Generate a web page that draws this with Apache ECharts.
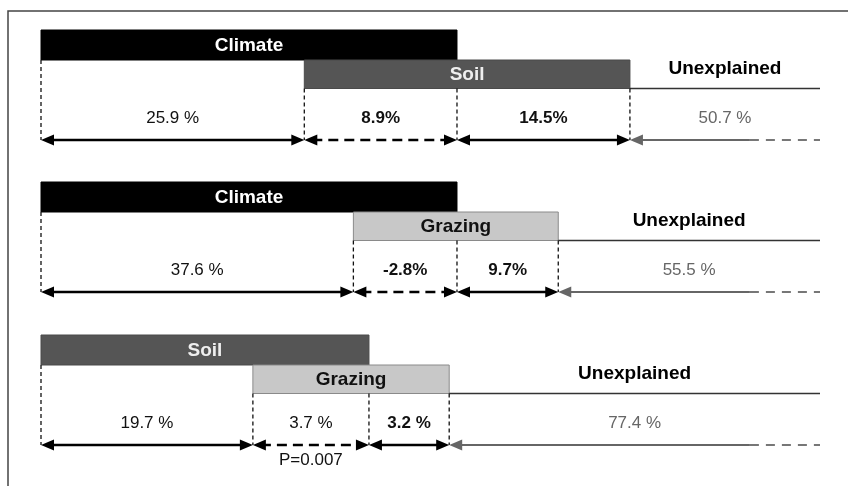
<!DOCTYPE html>
<html>
<head>
<meta charset="utf-8">
<script src="https://cdn.jsdelivr.net/npm/echarts@6/dist/echarts.min.js"></script>
<style>html,body{margin:0;padding:0;background:#fff}#c{width:848px;height:486px}</style>
</head>
<body>
<div id="c"></div>
<script>
// ---- data ----
const factorA = ['Climate', 'Climate', 'Soil'];
const factorB = ['Soil', 'Grazing', 'Grazing'];
const uniqueA = [25.9, 37.6, 19.7];
const shared = [8.9, -2.8, 3.7];
const uniqueB = [14.5, 9.7, 3.2];
const unexplained = [50.7, 55.5, 77.4];
const sharedP = [null, null, 0.007];
// schematic segment widths on the diagram axis (diagram is not drawn to scale)
const spanA = [33.8, 40.1, 27.2];
const spanShared = [19.6, 13.3, 14.9];
const spanB = [22.2, 13.0, 10.3];
// label formatting as printed
const sepShared = ['', '', ' '];
const sepB = ['', '', ' '];

// ---- styles / layout ----
const fill = { Climate: '#000000', Soil: '#555555', Grazing: '#c8c8c8' };
const stroke = { Climate: '#000000', Soil: '#4a4a4a', Grazing: '#8a8a8a' };
const txt = { Climate: '#ffffff', Soil: '#eeeeee', Grazing: '#111111' };
const panelTop = [0, 15.2, 30.5];
const L = { barA: 3.0, barB: 5.85, label: 8.85, arrow: 11.0, unexpl: 1.95, p: 12.5, solidEnd: 91 };
const FF = '"Liberation Sans", Arial, sans-serif';

function arrowHead(p, dir, color) {
  // dir: +1 points right, -1 points left; p = tip
  const len = 13, half = 5.5;
  return { type: 'polygon', shape: { points: [[p[0], p[1]], [p[0] - dir * len, p[1] - half], [p[0] - dir * len, p[1] + half]] }, style: { fill: color } };
}

function renderItem(params, api) {
  const i = params.dataIndex;
  const y0 = panelTop[i];
  const x0 = 0, x1 = spanA[i], x2 = x1 + spanShared[i], x3 = x2 + spanB[i], x4 = 100;
  const c = (x, y) => api.coord([x, y]);
  const els = [];
  const A = factorA[i], B = factorB[i];
  // bar A
  let p1 = c(x0, y0), p2 = c(x2, y0 + L.barA);
  els.push({ type: 'rect', shape: { x: p1[0], y: p1[1], width: p2[0] - p1[0], height: p2[1] - p1[1] }, style: { fill: fill[A], stroke: stroke[A], lineWidth: 1 } });
  els.push({ type: 'text', style: { text: A, x: (p1[0] + p2[0]) / 2, y: (p1[1] + p2[1]) / 2 + 1, align: 'center', verticalAlign: 'middle', fontFamily: FF, fontSize: 19, fontWeight: 'bold', fill: txt[A] } });
  // bar B
  p1 = c(x1, y0 + L.barA); p2 = c(x3, y0 + L.barB);
  els.push({ type: 'rect', shape: { x: p1[0], y: p1[1], width: p2[0] - p1[0], height: p2[1] - p1[1] }, style: { fill: fill[B], stroke: stroke[B], lineWidth: 1 } });
  els.push({ type: 'text', style: { text: B, x: (p1[0] + p2[0]) / 2, y: (p1[1] + p2[1]) / 2 + 1, align: 'center', verticalAlign: 'middle', fontFamily: FF, fontSize: 19, fontWeight: 'bold', fill: txt[B] } });
  // unexplained baseline
  p1 = c(x3, y0 + L.barB); p2 = c(x4, y0 + L.barB);
  els.push({ type: 'line', shape: { x1: p1[0], y1: p1[1], x2: p2[0], y2: p2[1] }, style: { stroke: '#333', lineWidth: 1.5 } });
  let pu = c((x3 + x4) / 2, y0 + L.barB - L.unexpl);
  els.push({ type: 'text', style: { text: 'Unexplained', x: pu[0], y: pu[1], align: 'center', verticalAlign: 'middle', fontFamily: FF, fontSize: 19, fontWeight: 'bold', fill: '#000' } });
  // dashed verticals
  const ya = y0 + L.arrow;
  [[x0, y0 + L.barA], [x1, y0 + L.barB], [x2, y0 + L.barB], [x3, y0 + L.barB]].forEach(([x, yt]) => {
    const a = c(x, yt), b = c(x, ya);
    els.push({ type: 'line', shape: { x1: a[0], y1: a[1], x2: b[0], y2: b[1] }, style: { stroke: '#111', lineWidth: 1.3, lineDash: [4, 3] } });
  });
  // arrows
  function dbl(xa, xb, dashed) {
    const a = c(xa, ya), b = c(xb, ya);
    els.push({ type: 'line', shape: { x1: a[0] + 8, y1: a[1], x2: b[0] - 8, y2: b[1] }, style: { stroke: '#000', lineWidth: 2.6, lineDash: dashed ? [10, 6] : null } });
    els.push(arrowHead(a, -1, '#000'));
    els.push(arrowHead(b, 1, '#000'));
  }
  dbl(x0, x1, false);
  dbl(x1, x2, true);
  dbl(x2, x3, false);
  // unexplained arrow (grey)
  let a = c(x3, ya), m = c(L.solidEnd, ya), e = c(x4, ya);
  els.push({ type: 'line', shape: { x1: a[0] + 8, y1: a[1], x2: m[0], y2: m[1] }, style: { stroke: '#666', lineWidth: 2.2 } });
  els.push({ type: 'line', shape: { x1: m[0], y1: m[1], x2: e[0], y2: e[1] }, style: { stroke: '#777', lineWidth: 2, lineDash: [9, 7] } });
  els.push(arrowHead(a, -1, '#666'));
  // value labels
  const yl = y0 + L.label;
  const lab = (xm, s, color, weight) => {
    const p = c(xm, yl);
    els.push({ type: 'text', style: { text: s, x: p[0], y: p[1], align: 'center', verticalAlign: 'middle', fontFamily: FF, fontSize: 17, fontWeight: weight, fill: color } });
  };
  lab((x0 + x1) / 2, uniqueA[i].toFixed(1) + ' %', '#111', 'normal');
  lab((x1 + x2) / 2, shared[i].toFixed(1) + sepShared[i] + '%', '#111', i === 2 ? 'normal' : 'bold');
  lab((x2 + x3) / 2, uniqueB[i].toFixed(1) + sepB[i] + '%', '#111', 'bold');
  lab((x3 + x4) / 2, unexplained[i].toFixed(1) + ' %', '#666', 'normal');
  if (sharedP[i] != null) {
    const p = c((x1 + x2) / 2, y0 + L.p);
    els.push({ type: 'text', style: { text: 'P=' + sharedP[i], x: p[0], y: p[1], align: 'center', verticalAlign: 'middle', fontFamily: FF, fontSize: 17, fill: '#111' } });
  }
  return { type: 'group', children: els };
}

const chart = echarts.init(document.getElementById('c'), null, { renderer: 'canvas' });
chart.setOption({
  animation: false,
  backgroundColor: '#fff',
  grid: { left: 41, right: 28, top: 30, bottom: 26 },
  xAxis: { type: 'value', min: 0, max: 100, show: false },
  yAxis: { type: 'value', min: 0, max: 43, inverse: true, show: false },
  graphic: [{ type: 'polyline', shape: { points: [[8, 486], [8, 11], [848, 11]] }, style: { stroke: '#444', lineWidth: 1.5, fill: null } }],
  series: [{
    type: 'custom',
    renderItem: renderItem,
    clip: false,
    data: factorA.map((_, i) => [i])
  }]
});
</script>
</body>
</html>
